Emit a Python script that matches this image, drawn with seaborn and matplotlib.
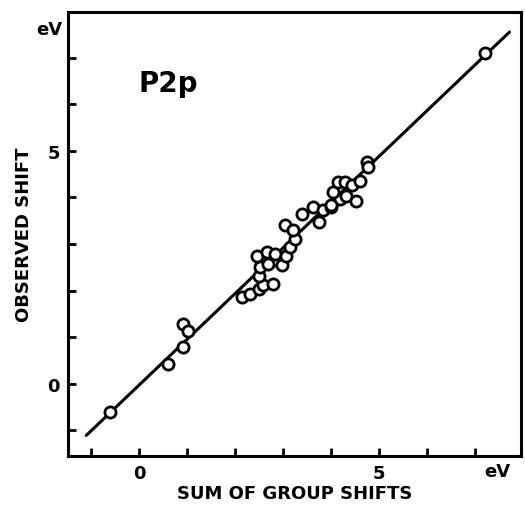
import matplotlib
matplotlib.use("Agg")
import matplotlib.pyplot as plt
import seaborn as sns
import pandas as pd

# sum of group shifts (eV) vs observed P2p shift (eV)
group_shift = [-0.60, 0.60, 0.92, 0.92, 1.02,
               2.14, 2.31, 2.49, 2.59, 2.80, 2.49, 2.52, 2.45, 2.66, 2.83,
               2.83, 2.69, 2.97, 3.07, 3.15, 3.25, 3.05, 3.20, 3.39, 3.63,
               3.74, 3.84, 4.01, 4.19, 4.05, 4.15, 4.32, 4.29, 4.43, 4.53,
               4.60, 4.74, 4.78, 4.01, 7.21]
observed_shift = [-0.60, 0.42, 0.79, 1.29, 1.14,
                  1.86, 1.93, 2.04, 2.11, 2.15, 2.32, 2.50, 2.75, 2.83, 2.65,
                  2.79, 2.58, 2.54, 2.75, 2.93, 3.11, 3.40, 3.30, 3.65, 3.79,
                  3.47, 3.72, 3.79, 3.97, 4.11, 4.33, 4.04, 4.33, 4.26, 3.93,
                  4.36, 4.76, 4.65, 3.83, 7.10]

# drawn correlation line
fit_x = [-1.10, 7.72]
fit_y = [-1.11, 7.55]

df = pd.DataFrame({"group": group_shift, "observed": observed_shift})
fit = pd.DataFrame({"x": fit_x, "y": fit_y})

sns.set_theme(style="white")
plt.rcParams["font.family"] = ["DejaVu Sans"]
plt.rcParams["font.weight"] = "bold"
plt.rcParams["text.color"] = "black"
plt.rcParams["axes.labelcolor"] = "black"
plt.rcParams["xtick.color"] = "black"
plt.rcParams["ytick.color"] = "black"

fig = plt.figure(figsize=(5.25, 5.10), dpi=100)
ax = fig.add_axes([0.1295, 0.104, 0.863, 0.8706])

sns.lineplot(ax=ax, data=fit, x="x", y="y", color="black", linewidth=2.2, sort=False)
sns.scatterplot(ax=ax, data=df, x="group", y="observed", s=65, color="white",
                edgecolor="black", linewidth=2.0, zorder=3)

ax.set_xlim(-1.48, 7.96)
ax.set_ylim(-1.55, 7.98)

ax.set_xticks([0, 5])
ax.set_yticks([0, 5])
ax.set_xticks([-1, 1, 2, 3, 4, 6, 7], minor=True)
ax.set_yticks([-1, 1, 2, 3, 4, 6, 7], minor=True)
ax.set_xticklabels(["0", "5"], fontsize=13, fontweight="bold")
ax.set_yticklabels(["0", "5"], fontsize=13, fontweight="bold")
ax.tick_params(which="both", direction="in", length=6, width=2, color="black",
               top=False, right=False, bottom=True, left=True, pad=6)

for side in ax.spines.values():
    side.set_color("black")
    side.set_linewidth(2.2)

ax.set_xlabel("SUM OF GROUP SHIFTS", fontsize=13, fontweight="bold", labelpad=1)
ax.set_ylabel("OBSERVED SHIFT", fontsize=13, fontweight="bold", labelpad=10)

ax.text(-0.013, 0.962, "eV", transform=ax.transAxes, ha="right", va="center",
        fontsize=13, fontweight="bold")
ax.text(0.947, -0.034, "eV", transform=ax.transAxes, ha="center", va="center",
        fontsize=13, fontweight="bold")
ax.text(0.155, 0.822, "P2p", transform=ax.transAxes, ha="left", va="baseline",
        fontsize=20, fontweight="bold")

fig.savefig("out.png", dpi=100)
